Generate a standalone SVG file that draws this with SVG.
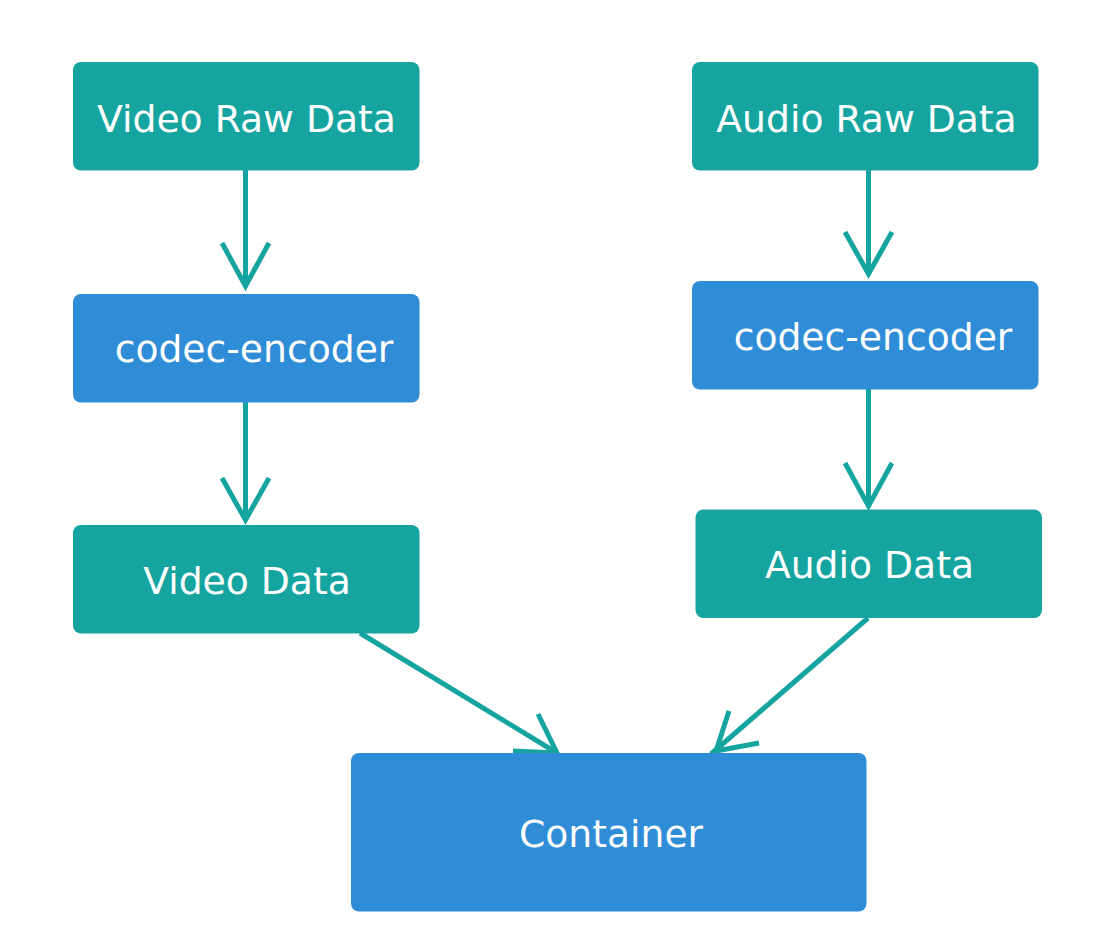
<svg xmlns="http://www.w3.org/2000/svg" width="1114" height="950" viewBox="0 0 1114 950">
<style>
.teal{fill:#16a4a0}
.blue{fill:#2f8cd6}
.lbl{font-family:"DejaVu Sans",Verdana,sans-serif;font-size:37.7px;fill:#ffffff}
.c{fill:none;stroke:#16a4a0;stroke-width:5;stroke-linejoin:miter}
</style>
<rect width="1114" height="950" fill="#ffffff"/>
<g id="connectors">
<path class="c" d="M245.5,170 V286"/>
<path class="c" d="M222,243 L245.5,286 L269,243"/>
<path class="c" d="M245.5,402 V520"/>
<path class="c" d="M222,478 L245.5,520 L269,478"/>
<path class="c" d="M868.5,170 V274"/>
<path class="c" d="M845,232 L868.5,274 L892,232"/>
<path class="c" d="M868.5,389 V506"/>
<path class="c" d="M845,463 L868.5,506 L892,463"/>
<path class="c" d="M360,633 L557,753"/>
<path class="c" d="M538,714 L557,753 L513,751"/>
<path class="c" d="M868,618 L711,754"/>
<path class="c" d="M729,711 L716,751 L759,743"/>
</g>
<g id="video-raw">
<rect class="teal" x="73" y="62" width="346.5" height="108.5" rx="8"/>
<text class="lbl" x="246.5" y="132" text-anchor="middle">Video Raw Data</text>
</g>
<g id="video-codec">
<rect class="blue" x="73" y="294" width="346.5" height="108.5" rx="8"/>
<text class="lbl" x="254" y="362" text-anchor="middle">codec-encoder</text>
</g>
<g id="video-data">
<rect class="teal" x="73" y="525" width="346.5" height="108.5" rx="8"/>
<text class="lbl" x="247" y="594" text-anchor="middle">Video Data</text>
</g>
<g id="audio-raw">
<rect class="teal" x="692" y="62" width="346.5" height="108.5" rx="8"/>
<text class="lbl" x="866.5" y="132" text-anchor="middle">Audio Raw Data</text>
</g>
<g id="audio-codec">
<rect class="blue" x="692" y="281" width="346.5" height="108.5" rx="8"/>
<text class="lbl" x="873" y="350" text-anchor="middle">codec-encoder</text>
</g>
<g id="audio-data">
<rect class="teal" x="695.5" y="509.5" width="346.5" height="108.5" rx="8"/>
<text class="lbl" x="869.5" y="578" text-anchor="middle">Audio Data</text>
</g>
<g id="container">
<rect class="blue" x="351" y="753" width="515.5" height="158.5" rx="8"/>
<text class="lbl" x="611" y="847" text-anchor="middle">Container</text>
</g>
</svg>
